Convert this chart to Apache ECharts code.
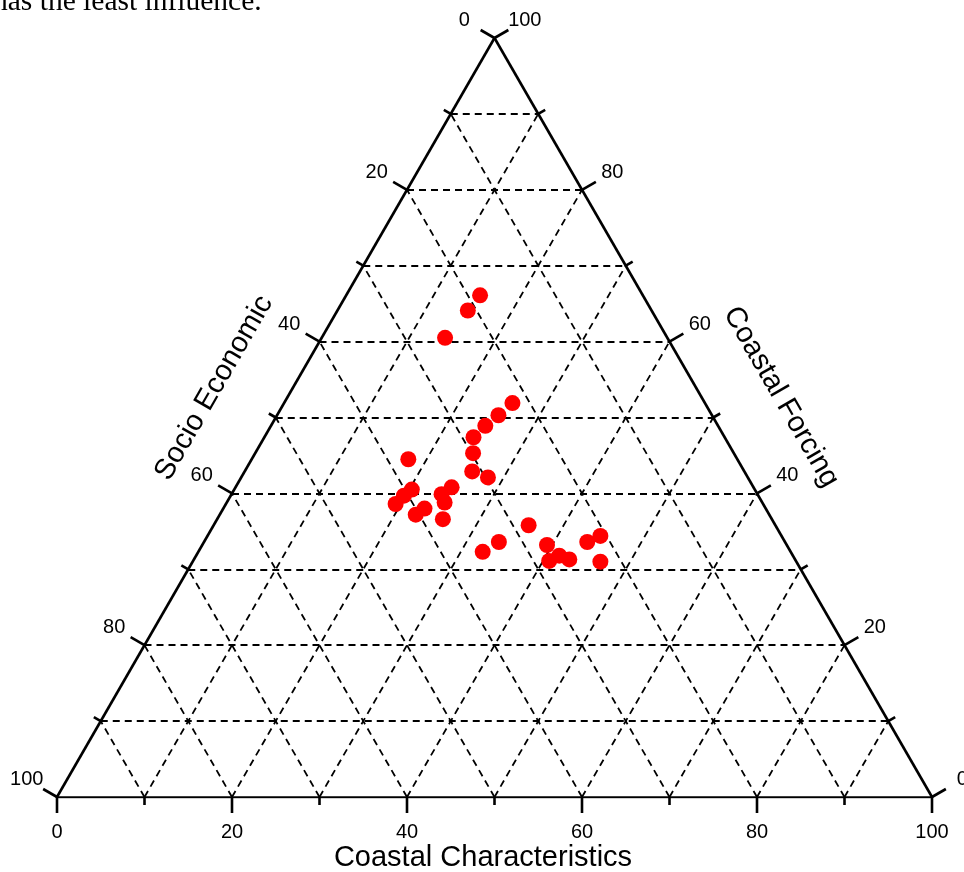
<!DOCTYPE html>
<html>
<head>
<meta charset="utf-8">
<script src="https://cdn.jsdelivr.net/npm/echarts@6/dist/echarts.min.js"></script>
<style>
html,body{margin:0;padding:0;background:#fff;}
#chart{width:964px;height:872px;}
</style>
</head>
<body>
<div id="chart"></div>
<script>
// ---- data (percentages) ----
const coastalCharacteristics = [15.3,14.9,14.1,26.1,25.3,24.5,23.9,24.9,17.9,26.0,28.2,24.7,24.0,20.3,19.8,19.4,23.0,22.4,24.9,25.8,36.0,33.7,32.5,39.4,41.5,40.7,42.9,43.8,44.9,46.6];
const coastalForcing         = [66.1,64.1,60.5,51.9,50.3,48.9,47.4,45.3,44.5,42.9,42.1,40.8,39.9,40.5,39.7,38.6,38.0,37.2,38.8,36.6,35.8,33.6,32.3,33.2,31.8,31.1,31.3,33.6,34.4,31.0];
const socioEconomic          = [18.6,21.0,25.4,22.0,24.4,26.6,28.7,29.8,37.6,31.1,29.7,34.5,36.1,39.2,40.5,42.0,39.0,40.4,36.3,37.6,28.2,32.7,35.2,27.4,26.7,28.2,25.8,22.6,20.7,22.4];

const gridValues = [10,20,30,40,50,60,70,80,90];
const tickValues = [0,10,20,30,40,50,60,70,80,90,100];
const tickLabels = ['0','10','20','30','40','50','60','70','80','90','100'];
const axisTitles = ['Coastal Characteristics','Socio Economic','Coastal Forcing'];
const captionText = 'has the least influence.';

// ternary -> cartesian (x along bottom 0..100, y = coastal forcing 0..100)
function toXY(cc, cf){ return [cc + cf/2, cf]; }

const points = coastalCharacteristics.map((cc,i)=>toXY(cc, coastalForcing[i]));

// grid lines
const gridLines = [];
gridValues.forEach(v=>{
  gridLines.push({coords:[toXY(0,v), toXY(100-v,v)]});      // constant coastal forcing
  gridLines.push({coords:[toXY(v,0), toXY(v,100-v)]});      // constant coastal characteristics
  gridLines.push({coords:[toXY(100-v,0), toXY(0,100-v)]});  // constant socio economic
});
const edgeLines = [
  {coords:[toXY(0,0), toXY(100,0)]},
  {coords:[toXY(100,0), toXY(0,100)]},
  {coords:[toXY(0,100), toXY(0,0)]}
];

// tick data: [side, value]  side 0=bottom (CC), 1=left (SE), 2=right (CF)
const tickData = [];
[0,1,2].forEach(s=>tickValues.forEach(v=>tickData.push([s,v])));

const FONT = 'Arial, "Liberation Sans", Helvetica, sans-serif';

const chart = echarts.init(document.getElementById('chart'), null, {renderer:'canvas'});
chart.setOption({
  animation:false,
  backgroundColor:'#fff',
  grid:{left:57,right:32,top:38,bottom:75},
  xAxis:{type:'value',min:0,max:100,show:false},
  yAxis:{type:'value',min:0,max:100,show:false},
  series:[
    {
      type:'lines',coordinateSystem:'cartesian2d',silent:true,z:1,
      lineStyle:{color:'#000',width:1.8,type:[7,5],opacity:1},
      data:gridLines
    },
    {
      type:'lines',coordinateSystem:'cartesian2d',silent:true,z:3,
      lineStyle:{color:'#000',width:2.6,type:'solid',opacity:1},
      data:edgeLines
    },
    {
      type:'custom',coordinateSystem:'cartesian2d',silent:true,z:4,
      data:tickData,
      renderItem:function(params, api){
        const side = api.value(0), v = api.value(1);
        let p, n;
        if(side===0){ p = api.coord(toXY(v,0)); n=[0,1]; }
        else if(side===1){ p = api.coord(toXY(0,100-v)); n=[-0.866,-0.5]; }
        else { p = api.coord(toXY(100-v,v)); n=[0.866,-0.5]; }
        const major = v % 20 === 0;
        const len = major ? 16 : 8;
        const children = [{
          type:'line',
          shape:{x1:p[0],y1:p[1],x2:p[0]+n[0]*len,y2:p[1]+n[1]*len},
          style:{stroke:'#000',lineWidth:2.6}
        }];
        if(major){
          const idx = tickValues.indexOf(v);
          children.push({
            type:'text',
            style:{
              text:tickLabels[idx],
              x:p[0]+n[0]*35, y:p[1]+n[1]*35,
              align:'center', verticalAlign:'middle',
              fontSize:20, fontFamily:FONT, fill:'#000'
            }
          });
        }
        return {type:'group',children:children};
      }
    },
    {
      type:'scatter',z:5,
      symbol:'circle',symbolSize:16,
      itemStyle:{color:'#ff0000',opacity:1},
      data:points
    }
  ],
  graphic:[
    {type:'text',x:483,y:858,
     style:{text:axisTitles[0],x:0,y:0,align:'center',verticalAlign:'middle',fontSize:29,fontFamily:FONT,fill:'#000'}},
    {type:'text',x:214,y:388,rotation:Math.PI/3,
     style:{text:axisTitles[1],x:0,y:0,align:'center',verticalAlign:'middle',fontSize:29,fontFamily:FONT,fill:'#000'}},
    {type:'text',x:781,y:397,rotation:-Math.PI/3,
     style:{text:axisTitles[2],x:0,y:0,align:'center',verticalAlign:'middle',fontSize:29,fontFamily:FONT,fill:'#000'}},
    {type:'text',x:-7,y:-13,
     style:{text:captionText,x:0,y:0,align:'left',verticalAlign:'top',fontSize:29.5,fontFamily:'"Liberation Serif","Times New Roman",serif',fill:'#000'}}
  ]
});
</script>
</body>
</html>
